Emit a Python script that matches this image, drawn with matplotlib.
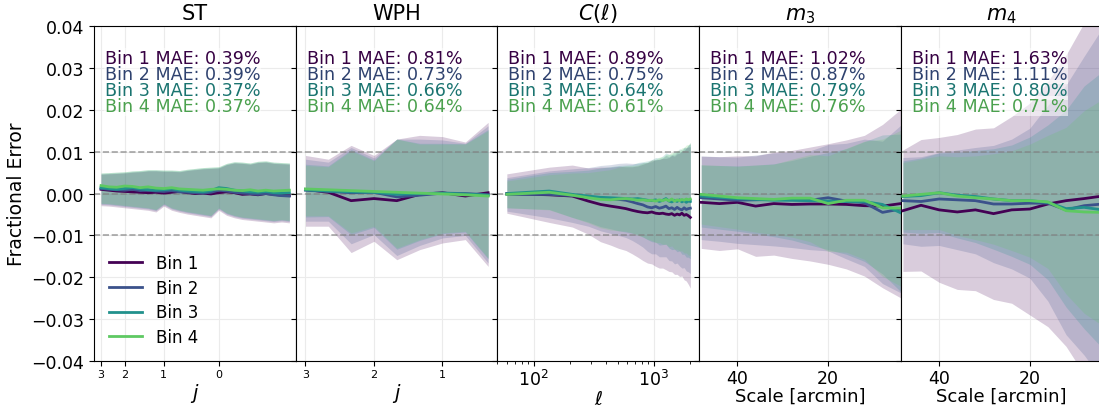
import numpy as np
import matplotlib
matplotlib.use("Agg")
import matplotlib.pyplot as plt

# ---- data ----
bins = ["Bin 1", "Bin 2", "Bin 3", "Bin 4"]

# ST: coefficient index, ticks labelled by j
st_x = np.arange(25)
st_ticks = [0, 3, 8, 15]
st_ticklabels = ["3", "2", "1", "0"]
st_mean = [
    [0.0010, 0.0008, 0.0006, 0.0005, 0.0004, 0.0003, 0.0002, 0.0003, 0.0001, 0.0003, 0.0005, 0.0002, 0.0000,
     0.0001, -0.0001, 0.0002, 0.0004, 0.0002, -0.0002, -0.0001, -0.0003, 0.0000, -0.0002, -0.0004, -0.0005],
    [0.0012, 0.0010, 0.0009, 0.0008, 0.0010, 0.0007, 0.0008, 0.0006, 0.0005, 0.0007, 0.0004, 0.0003, 0.0002,
     0.0001, 0.0003, 0.0008, 0.0006, 0.0003, 0.0001, 0.0000, -0.0002, 0.0000, -0.0003, -0.0005, -0.0006],
    [0.0014, 0.0012, 0.0010, 0.0012, 0.0014, 0.0011, 0.0009, 0.0008, 0.0009, 0.0011, 0.0008, 0.0006, 0.0005,
     0.0004, 0.0007, 0.0014, 0.0012, 0.0008, 0.0006, 0.0004, 0.0003, 0.0005, 0.0002, 0.0001, 0.0002],
    [0.0019, 0.0016, 0.0015, 0.0018, 0.0017, 0.0014, 0.0016, 0.0013, 0.0012, 0.0014, 0.0011, 0.0010, 0.0009,
     0.0008, 0.0010, 0.0011, 0.0010, 0.0008, 0.0007, 0.0009, 0.0006, 0.0008, 0.0006, 0.0007, 0.0008],
]
st_lo = [
    [-0.0029, -0.0030, -0.0032, -0.0034, -0.0036, -0.0038, -0.0040, -0.0044, -0.0030, -0.0040, -0.0045, -0.0049, -0.0052,
     -0.0055, -0.0058, -0.0040, -0.0052, -0.0058, -0.0062, -0.0064, -0.0066, -0.0068, -0.0070, -0.0068, -0.0070],
    [-0.0026, -0.0027, -0.0029, -0.0031, -0.0033, -0.0035, -0.0037, -0.0041, -0.0027, -0.0037, -0.0042, -0.0046, -0.0049,
     -0.0052, -0.0055, -0.0037, -0.0049, -0.0055, -0.0059, -0.0061, -0.0063, -0.0065, -0.0067, -0.0065, -0.0067],
    [-0.0024, -0.0025, -0.0027, -0.0029, -0.0031, -0.0033, -0.0035, -0.0039, -0.0025, -0.0035, -0.0040, -0.0044, -0.0047,
     -0.0050, -0.0053, -0.0035, -0.0047, -0.0053, -0.0057, -0.0059, -0.0061, -0.0063, -0.0065, -0.0063, -0.0065],
    [-0.0023, -0.0024, -0.0026, -0.0028, -0.0030, -0.0032, -0.0034, -0.0038, -0.0024, -0.0034, -0.0039, -0.0043, -0.0046,
     -0.0049, -0.0052, -0.0034, -0.0046, -0.0052, -0.0056, -0.0058, -0.0060, -0.0062, -0.0064, -0.0062, -0.0064],
]
st_hi = [
    [0.0046, 0.0047, 0.0048, 0.0049, 0.0051, 0.0052, 0.0054, 0.0054, 0.0053, 0.0053, 0.0052, 0.0055, 0.0057,
     0.0059, 0.0060, 0.0061, 0.0069, 0.0073, 0.0072, 0.0070, 0.0074, 0.0075, 0.0072, 0.0071, 0.0070],
    [0.0047, 0.0048, 0.0049, 0.0050, 0.0052, 0.0053, 0.0055, 0.0055, 0.0054, 0.0054, 0.0053, 0.0056, 0.0058,
     0.0060, 0.0061, 0.0062, 0.0070, 0.0074, 0.0073, 0.0071, 0.0075, 0.0076, 0.0073, 0.0072, 0.0071],
    [0.0049, 0.0050, 0.0051, 0.0052, 0.0054, 0.0055, 0.0057, 0.0057, 0.0056, 0.0056, 0.0055, 0.0058, 0.0060,
     0.0062, 0.0063, 0.0064, 0.0072, 0.0076, 0.0075, 0.0073, 0.0077, 0.0078, 0.0075, 0.0074, 0.0073],
    [0.0049, 0.0050, 0.0051, 0.0052, 0.0054, 0.0055, 0.0057, 0.0057, 0.0056, 0.0056, 0.0055, 0.0058, 0.0060,
     0.0062, 0.0063, 0.0064, 0.0072, 0.0076, 0.0075, 0.0073, 0.0077, 0.0078, 0.0075, 0.0074, 0.0073],
]
st_mae = [0.39, 0.39, 0.37, 0.37]

# WPH
wph_x = np.arange(9)
wph_ticks = [0, 3, 6]
wph_ticklabels = ["3", "2", "1"]
wph_mean = [
    [0.0010, 0.0003, -0.0017, -0.0012, -0.0017, -0.0002, 0.0002, -0.0006, 0.0002],
    [0.0008, 0.0005, 0.0002, 0.0003, -0.0008, -0.0004, 0.0001, 0.0000, -0.0003],
    [0.0009, 0.0006, 0.0004, 0.0003, -0.0002, 0.0000, 0.0001, -0.0001, -0.0004],
    [0.0011, 0.0009, 0.0007, 0.0005, 0.0003, 0.0001, -0.0001, -0.0003, -0.0006],
]
wph_lo = [
    [-0.0078, -0.0078, -0.0141, -0.0114, -0.0158, -0.0134, -0.0118, -0.0110, -0.0174],
    [-0.0066, -0.0066, -0.0120, -0.0098, -0.0148, -0.0124, -0.0106, -0.0100, -0.0166],
    [-0.0056, -0.0055, -0.0098, -0.0081, -0.0133, -0.0112, -0.0096, -0.0092, -0.0156],
    [-0.0053, -0.0053, -0.0094, -0.0078, -0.0130, -0.0110, -0.0094, -0.0090, -0.0154],
]
wph_hi = [
    [0.0091, 0.0082, 0.0115, 0.0091, 0.0130, 0.0139, 0.0136, 0.0123, 0.0170],
    [0.0082, 0.0075, 0.0110, 0.0085, 0.0130, 0.0130, 0.0128, 0.0120, 0.0162],
    [0.0070, 0.0066, 0.0105, 0.0080, 0.0130, 0.0120, 0.0120, 0.0119, 0.0153],
    [0.0067, 0.0064, 0.0102, 0.0078, 0.0130, 0.0118, 0.0118, 0.0118, 0.0150],
]
wph_mae = [0.81, 0.73, 0.66, 0.64]

# C(ell)
cl_ell = [60, 135, 210, 285, 360, 435, 510, 585, 660, 735, 810, 885, 960, 1035, 1110, 1185,
          1260, 1335, 1410, 1485, 1560, 1635, 1710, 1785, 1860, 1935, 2010]
cl_mean = [
    [0.0000, -0.0003, -0.0006, -0.0018, -0.0026, -0.0030, -0.0033, -0.0036, -0.0040, -0.0043, -0.0045, -0.0046, -0.0044,
     -0.0047, -0.0048, -0.0047, -0.0049, -0.0050, -0.0048, -0.0052, -0.0049, -0.0051, -0.0047, -0.0052, -0.0050, -0.0053, -0.0057],
    [-0.0002, -0.0002, -0.0005, -0.0008, -0.0011, -0.0013, -0.0014, -0.0016, -0.0020, -0.0024, -0.0027, -0.0032, -0.0034,
     -0.0031, -0.0035, -0.0033, -0.0030, -0.0036, -0.0034, -0.0038, -0.0033, -0.0037, -0.0039, -0.0034, -0.0038, -0.0036, -0.0035],
    [0.0000, 0.0006, -0.0002, -0.0006, -0.0009, -0.0010, -0.0011, -0.0012, -0.0013, -0.0012, -0.0014, -0.0016, -0.0017,
     -0.0015, -0.0019, -0.0016, -0.0012, -0.0018, -0.0020, -0.0016, -0.0019, -0.0015, -0.0020, -0.0017, -0.0021, -0.0018, -0.0019],
    [-0.0002, 0.0003, -0.0004, -0.0010, -0.0014, -0.0015, -0.0013, -0.0012, -0.0014, -0.0016, -0.0015, -0.0017, -0.0016,
     -0.0018, -0.0015, -0.0017, -0.0014, -0.0017, -0.0013, -0.0018, -0.0015, -0.0017, -0.0014, -0.0016, -0.0013, -0.0015, -0.0013],
]
cl_err = [
    [0.0047, 0.0066, 0.0074, 0.0079, 0.0089, 0.0093, 0.0098, 0.0100, 0.0104, 0.0109, 0.0115, 0.0120, 0.0124,
     0.0127, 0.0130, 0.0131, 0.0133, 0.0136, 0.0139, 0.0141, 0.0144, 0.0147, 0.0150, 0.0154, 0.0159, 0.0164, 0.0169],
    [0.0040, 0.0056, 0.0064, 0.0070, 0.0078, 0.0082, 0.0086, 0.0089, 0.0092, 0.0096, 0.0101, 0.0106, 0.0110,
     0.0113, 0.0116, 0.0118, 0.0121, 0.0124, 0.0127, 0.0130, 0.0133, 0.0136, 0.0139, 0.0143, 0.0147, 0.0151, 0.0156],
    [0.0034, 0.0044, 0.0055, 0.0062, 0.0070, 0.0074, 0.0078, 0.0080, 0.0082, 0.0086, 0.0090, 0.0094, 0.0098,
     0.0101, 0.0104, 0.0106, 0.0109, 0.0112, 0.0114, 0.0117, 0.0120, 0.0122, 0.0125, 0.0128, 0.0131, 0.0134, 0.0137],
    [0.0032, 0.0042, 0.0053, 0.0060, 0.0068, 0.0072, 0.0076, 0.0078, 0.0080, 0.0084, 0.0088, 0.0092, 0.0096,
     0.0099, 0.0102, 0.0104, 0.0107, 0.0110, 0.0112, 0.0115, 0.0118, 0.0120, 0.0123, 0.0126, 0.0129, 0.0132, 0.0135],
]
cl_mae = [0.89, 0.75, 0.64, 0.61]

# m3 / m4 vs smoothing scale
scale_arcmin = [48, 44, 40, 36, 32, 28, 24, 20, 16, 12, 8, 4]
scale_ticks = [40, 20]
m3_mean = [
    [-0.0021, -0.0024, -0.0021, -0.0030, -0.0024, -0.0026, -0.0025, -0.0025, -0.0026, -0.0029, -0.0030, -0.0024],
    [-0.0010, -0.0013, -0.0016, -0.0015, -0.0014, -0.0015, -0.0016, -0.0010, -0.0018, -0.0022, -0.0045, -0.0037],
    [-0.0006, -0.0009, -0.0012, -0.0014, -0.0016, -0.0016, -0.0017, -0.0018, -0.0019, -0.0019, -0.0026, -0.0046],
    [-0.0002, -0.0006, -0.0010, -0.0012, -0.0014, -0.0011, -0.0011, -0.0024, -0.0016, -0.0016, -0.0034, -0.0035],
]
m3_err = [
    [0.0110, 0.0112, 0.0111, 0.0120, 0.0123, 0.0129, 0.0136, 0.0144, 0.0154, 0.0168, 0.0195, 0.0225],
    [0.0100, 0.0101, 0.0103, 0.0107, 0.0111, 0.0114, 0.0118, 0.0127, 0.0138, 0.0152, 0.0170, 0.0200],
    [0.0074, 0.0076, 0.0078, 0.0082, 0.0087, 0.0095, 0.0106, 0.0116, 0.0126, 0.0143, 0.0166, 0.0188],
    [0.0071, 0.0073, 0.0075, 0.0080, 0.0084, 0.0093, 0.0104, 0.0114, 0.0124, 0.0141, 0.0164, 0.0186],
]
m3_mae = [1.02, 0.87, 0.79, 0.76]

m4_mean = [
    [-0.0041, -0.0028, -0.0039, -0.0044, -0.0039, -0.0048, -0.0039, -0.0037, -0.0025, -0.0017, -0.0012, -0.0006],
    [-0.0017, -0.0019, -0.0013, -0.0015, -0.0017, -0.0025, -0.0025, -0.0023, -0.0023, -0.0039, -0.0029, -0.0025],
    [-0.0007, -0.0005, 0.0002, -0.0004, -0.0007, -0.0013, -0.0017, -0.0017, -0.0021, -0.0036, -0.0033, -0.0039],
    [-0.0006, -0.0002, 0.0002, -0.0006, -0.0010, -0.0013, -0.0017, -0.0017, -0.0020, -0.0041, -0.0044, -0.0045],
]
m4_err = [
    [0.0145, 0.0157, 0.0173, 0.0185, 0.0193, 0.0205, 0.0223, 0.0253, 0.0293, 0.0348, 0.0420, 0.0480],
    [0.0103, 0.0107, 0.0111, 0.0119, 0.0127, 0.0140, 0.0155, 0.0179, 0.0234, 0.0298, 0.0357, 0.0420],
    [0.0085, 0.0090, 0.0095, 0.0102, 0.0110, 0.0120, 0.0133, 0.0152, 0.0185, 0.0235, 0.0290, 0.0330],
    [0.0080, 0.0084, 0.0088, 0.0094, 0.0100, 0.0108, 0.0119, 0.0135, 0.0159, 0.0199, 0.0242, 0.0270],
]
m4_mae = [1.63, 1.11, 0.80, 0.71]

# ---- plotting ----
colors = plt.cm.viridis(np.linspace(0, 0.75, 4))
text_colors = [tuple(np.array(c[:3]) * 0.8) for c in colors]

panels = [
    dict(title="ST", x=st_x, mean=st_mean, lo=st_lo, hi=st_hi, mae=st_mae),
    dict(title="WPH", x=wph_x, mean=wph_mean, lo=wph_lo, hi=wph_hi, mae=wph_mae),
    dict(title=r"$C(\ell)$", x=cl_ell, mean=cl_mean, err=cl_err, mae=cl_mae),
    dict(title=r"$m_3$", x=scale_arcmin, mean=m3_mean, err=m3_err, mae=m3_mae),
    dict(title=r"$m_4$", x=scale_arcmin, mean=m4_mean, err=m4_err, mae=m4_mae),
]

fig = plt.figure(figsize=(10.99, 4.10), dpi=100)
left, bottom, top = 0.0855, 0.117, 0.934
w = 0.1835
axes = []
for i, p in enumerate(panels):
    ax = fig.add_axes([left + i * w, bottom, w, top - bottom],
                      sharey=axes[0] if axes else None)
    axes.append(ax)
    x = np.array(p["x"])
    for b in range(4):
        m = np.array(p["mean"][b])
        if "err" in p:
            lo = m - np.array(p["err"][b])
            hi = m + np.array(p["err"][b])
        else:
            lo = np.array(p["lo"][b])
            hi = np.array(p["hi"][b])
        ax.fill_between(x, lo, hi, color=colors[b], alpha=0.2, lw=0)
    for b in range(4):
        ax.plot(x, p["mean"][b], color=colors[b], lw=2, label=bins[b], zorder=3)
    for v in [0.01, 0.0, -0.01]:
        ax.axhline(v, color="gray", ls="--", lw=1.2, alpha=0.7, zorder=2)
    ax.grid(True, color="0.92", lw=0.8, zorder=0)
    ax.set_axisbelow(True)
    ax.set_title(p["title"], fontsize=15, pad=5)
    for b in range(4):
        ax.text(0.055, 0.905 - b * 0.048, f"Bin {b+1} MAE: {p['mae'][b]:.2f}%",
                transform=ax.transAxes, color=text_colors[b], fontsize=12.6, va="center",
                bbox=dict(facecolor="white", alpha=0.55, edgecolor="none", pad=0.5), zorder=5)
    ax.tick_params(labelsize=12.5)
    ax.tick_params(axis="x", pad=2)
    if i > 0:
        ax.tick_params(labelleft=False)

ax = axes[0]
ax.set_ylim(-0.04, 0.04)
ax.set_yticks([-0.04, -0.03, -0.02, -0.01, 0.0, 0.01, 0.02, 0.03, 0.04])
ax.set_ylabel("Fractional Error", fontsize=13.5, labelpad=4)
ax.set_xlim(-0.9, 24.8)
ax.set_xticks(st_ticks)
ax.set_xticklabels(st_ticklabels, fontsize=8)
ax.set_xlabel("$j$", fontsize=14, labelpad=2)
ax.legend(loc="lower left", frameon=False, fontsize=12, labelspacing=0.4)

ax = axes[1]
ax.set_xlim(-0.43, 8.4)
ax.set_xticks(wph_ticks)
ax.set_xticklabels(wph_ticklabels, fontsize=8)
ax.set_xlabel("$j$", fontsize=14, labelpad=2)

ax = axes[2]
ax.set_xscale("log")
ax.set_xlim(50, 2370)
ax.set_xlabel(r"$\ell$", fontsize=14, labelpad=0)

for ax in axes[3:]:
    ax.set_xlim(48.5, 4)
    ax.set_xticks(scale_ticks)
    ax.set_xlabel("Scale [arcmin]", fontsize=13, labelpad=0)

fig.savefig("out.png", dpi=100)
